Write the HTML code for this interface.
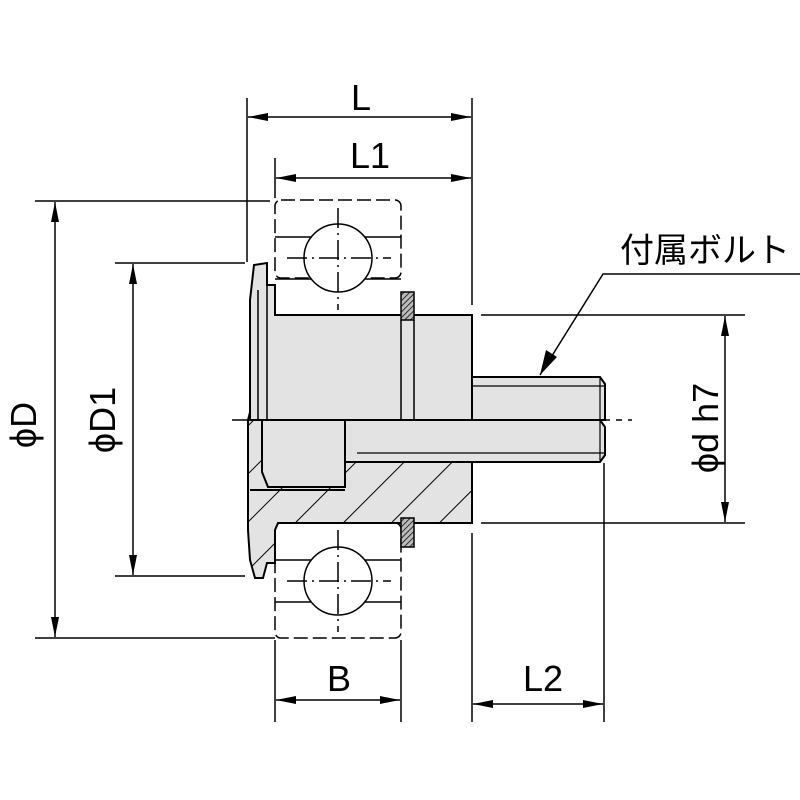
<!DOCTYPE html>
<html><head><meta charset="utf-8"><style>html,body{margin:0;padding:0;background:#fff}svg{display:block}</style></head>
<body>
<svg width="800" height="800" viewBox="0 0 800 800" xmlns="http://www.w3.org/2000/svg">
<defs>
<pattern id="h" patternUnits="userSpaceOnUse" width="34" height="34" patternTransform="rotate(45)">
<rect width="34" height="34" fill="#e3e3e3"/><line x1="0" y1="0" x2="0" y2="34" stroke="#000" stroke-width="2"/></pattern>
<pattern id="h2" patternUnits="userSpaceOnUse" width="4" height="4" patternTransform="rotate(45)">
<rect width="4" height="4" fill="#bbb"/><line x1="0" y1="0" x2="0" y2="4" stroke="#000" stroke-width="1.5"/></pattern>
<marker id="a" viewBox="0 0 20 8" refX="20" refY="4" markerWidth="20" markerHeight="8" orient="auto-start-reverse" markerUnits="userSpaceOnUse"><path d="M0,0 L20,4 L0,8z" fill="#000"/></marker>
</defs>
<g stroke="#000" stroke-width="1.5" fill="none">
<line x1="247" y1="98" x2="247" y2="262"/>
<line x1="472" y1="98" x2="472" y2="305"/>
<line x1="275" y1="158" x2="275" y2="198"/>
<line x1="35" y1="201" x2="270" y2="201"/>
<line x1="115" y1="263" x2="245" y2="263"/>
<line x1="115" y1="576" x2="245" y2="576"/>
<line x1="35" y1="638" x2="275" y2="638"/>
<line x1="481" y1="315" x2="745" y2="315"/>
<line x1="481" y1="523" x2="745" y2="523"/>
<line x1="472" y1="533" x2="472" y2="722"/>
<line x1="604" y1="463" x2="604" y2="722"/>
<line x1="275" y1="640" x2="275" y2="722"/>
<line x1="401" y1="640" x2="401" y2="722"/>
<line x1="248" y1="117" x2="471" y2="117" marker-start="url(#a)" marker-end="url(#a)"/>
<line x1="276" y1="178" x2="471" y2="178" marker-start="url(#a)" marker-end="url(#a)"/>
<line x1="55" y1="202" x2="55" y2="637" marker-start="url(#a)" marker-end="url(#a)"/>
<line x1="133" y1="264" x2="133" y2="575" marker-start="url(#a)" marker-end="url(#a)"/>
<line x1="725" y1="316" x2="725" y2="522" marker-start="url(#a)" marker-end="url(#a)"/>
<line x1="276" y1="700" x2="400" y2="700" marker-start="url(#a)" marker-end="url(#a)"/>
<line x1="473" y1="704" x2="603" y2="704" marker-start="url(#a)" marker-end="url(#a)"/>
<polyline points="800,274 603,274 540,375" />
</g>
<path d="M540,375 L546,350 L557,357z" fill="#000"/>
<g stroke="#000" stroke-width="1.5" fill="none">
<rect x="275" y="200" width="126" height="78" rx="6" stroke-dasharray="14,5"/>
<line x1="275" y1="237" x2="401" y2="237"/><line x1="275" y1="279" x2="401" y2="279"/>
<circle cx="338" cy="258" r="34" fill="#fff"/>
<line x1="287" y1="258" x2="391" y2="258" stroke-dasharray="20,5,2,5"/>
<line x1="338" y1="208" x2="338" y2="310" stroke-dasharray="20,5,2,5"/>
<rect x="275" y="523" width="126" height="115" rx="6" stroke-dasharray="14,5"/>
<line x1="275" y1="560" x2="401" y2="560"/><line x1="275" y1="602" x2="401" y2="602"/>
<circle cx="338" cy="581" r="34" fill="#fff"/>
<line x1="287" y1="581" x2="391" y2="581" stroke-dasharray="20,5,2,5"/>
<line x1="338" y1="530" x2="338" y2="632" stroke-dasharray="20,5,2,5"/>
</g>
<g stroke="#000" stroke-width="2">
<path d="M275,315 L472,315 L472,523 L278,523 L275,530 L275,563 L267,563 L263,578 L255,578 L250,560 L248,530 L248,420 Z" fill="url(#h)"/>
<path d="M250,420 L250,300 L254,265 L267,263 L267,285 L275,285 L275,315 L472,315 L472,420 Z" fill="#e3e3e3"/>
<path d="M262,420 L262,472 L268,487 L345,487 L345,420 Z" fill="#e3e3e3"/>
<line x1="250" y1="490" x2="345" y2="490" />
<line x1="267" y1="285" x2="267" y2="420" stroke-width="1.5"/>
<line x1="258" y1="290" x2="258" y2="420" stroke-width="1.5"/>
<line x1="401" y1="320" x2="401" y2="420" stroke-width="1.5"/>
<line x1="414" y1="320" x2="414" y2="420" stroke-width="1.5"/>
<path d="M345,420 L600,420 L605,427 L605,455 L600,462 L345,462 Z" fill="#e3e3e3"/>
<path d="M472,377 L600,377 L605,384 L605,420 L472,420 Z" fill="#e3e3e3"/>
<line x1="472" y1="386" x2="604" y2="386" stroke-width="1.2"/>
<line x1="357" y1="453" x2="604" y2="453" stroke-width="1.2"/>
<line x1="600" y1="377" x2="600" y2="462" stroke-width="1.2"/>
<rect x="401" y="292" width="13" height="28" fill="url(#h2)" stroke-width="1.5"/>
<rect x="401" y="518" width="13" height="29" fill="url(#h2)" stroke-width="1.5"/>
</g>
<line x1="232" y1="420" x2="632" y2="420" stroke="#000" stroke-width="1.5" stroke-dasharray="26,6,6,6"/>
<g font-family="Liberation Sans, sans-serif" font-size="36" fill="#000" text-anchor="middle">
<text x="361" y="110">L</text>
<text x="370" y="168">L1</text>
<text x="339" y="691">B</text>
<text x="543" y="691">L2</text>
<text transform="translate(36,425) rotate(-90)">ϕD</text>
<text transform="translate(115,420) rotate(-90)">ϕD1</text>
<text transform="translate(718,428) rotate(-90)">ϕd h7</text>
<text x="705" y="262" font-family="Liberation Sans, Noto Sans CJK JP, sans-serif" font-size="34">付属ボルト</text>
</g>
</svg>
</body></html>
